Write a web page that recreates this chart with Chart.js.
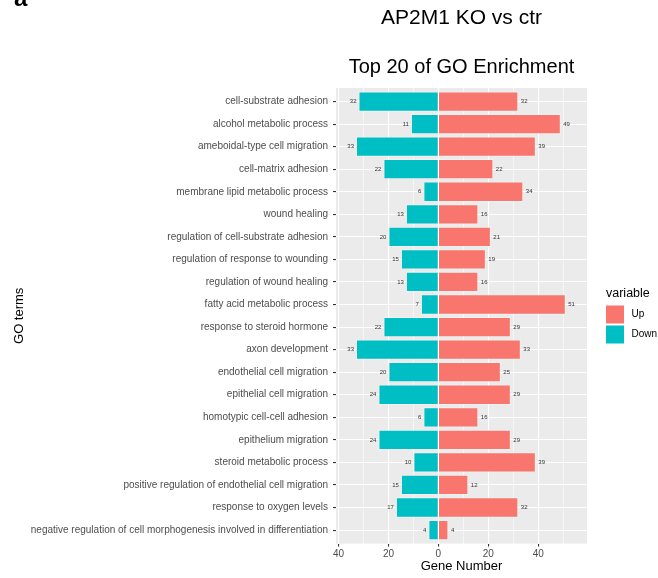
<!DOCTYPE html>
<html>
<head>
<meta charset="utf-8">
<title>GO enrichment</title>
<script src="https://cdn.jsdelivr.net/npm/chart.js@4.4.1/dist/chart.umd.min.js"></script>
<style>
  html, body { margin: 0; padding: 0; background: #fff; }
  canvas { display: block; }
</style>
</head>
<body>
<canvas id="chart" width="658" height="578"></canvas>
<script>
const terms = [
    'cell-substrate adhesion',
    'alcohol metabolic process',
    'ameboidal-type cell migration',
    'cell-matrix adhesion',
    'membrane lipid metabolic process',
    'wound healing',
    'regulation of cell-substrate adhesion',
    'regulation of response to wounding',
    'regulation of wound healing',
    'fatty acid metabolic process',
    'response to steroid hormone',
    'axon development',
    'endothelial cell migration',
    'epithelial cell migration',
    'homotypic cell-cell adhesion',
    'epithelium migration',
    'steroid metabolic process',
    'positive regulation of endothelial cell migration',
    'response to oxygen levels',
    'negative regulation of cell morphogenesis involved in differentiation'
];
const upCounts = [32, 49, 39, 22, 34, 16, 21, 19, 16, 51, 29, 33, 25, 29, 16, 29, 39, 12, 32, 4];
const downCounts = [32, 11, 33, 22, 6, 13, 20, 15, 13, 7, 22, 33, 20, 24, 6, 24, 10, 15, 17, 4];
const xTicks = [-40, -30, -20, -10, 0, 10, 20, 30, 40, 50];

const UP_COLOR = '#F8766D';
const DOWN_COLOR = '#00BFC4';
const FONT = '"Liberation Sans", Arial, Helvetica, sans-serif';

function isMajor(v) {
    return v % 20 === 0;
}

// grey panel behind the bars + all the free text (titles, legend, counts)
const decorations = {
    id: 'decorations',
    beforeDraw(chart) {
        const { ctx, chartArea: a } = chart;
        ctx.save();
        ctx.fillStyle = '#EBEBEB';
        ctx.fillRect(a.left, a.top, a.right - a.left, a.bottom - a.top);
        ctx.restore();
    },
    afterDraw(chart) {
        const { ctx, chartArea: a } = chart;
        const midX = (a.left + a.right) / 2;
        ctx.save();
        ctx.textBaseline = 'middle';

        // counts at the end of each bar
        ctx.font = `6px ${FONT}`;
        ctx.fillStyle = '#333333';
        chart.getDatasetMeta(0).data.forEach((bar, i) => {
            ctx.textAlign = 'left';
            ctx.fillText(String(upCounts[i]), bar.x + 2.5, bar.y);
        });
        chart.getDatasetMeta(1).data.forEach((bar, i) => {
            ctx.textAlign = 'right';
            ctx.fillText(String(downCounts[i]), bar.x - 2, bar.y);
        });

        // titles
        ctx.fillStyle = '#000';
        ctx.textAlign = 'center';
        ctx.font = `21px ${FONT}`;
        ctx.fillText('AP2M1 KO vs ctr', midX, 18);
        ctx.font = `20px ${FONT}`;
        ctx.fillText('Top 20 of GO Enrichment', midX, 67);

        // axis titles
        ctx.font = `13px ${FONT}`;
        ctx.fillText('Gene Number', midX, 566);
        ctx.save();
        ctx.translate(19, (a.top + a.bottom) / 2);
        ctx.rotate(-Math.PI / 2);
        ctx.fillText('GO terms', 0, 0);
        ctx.restore();

        // panel letter, clipped by the top edge
        ctx.textAlign = 'left';
        ctx.textBaseline = 'alphabetic';
        ctx.font = `bold 24px ${FONT}`;
        ctx.fillText('a', 14, 6);

        // legend
        ctx.textBaseline = 'middle';
        ctx.font = `12.5px ${FONT}`;
        ctx.fillText('variable', 606, 294);
        const keys = [['Up', UP_COLOR], ['Down', DOWN_COLOR]];
        keys.forEach(([name, color], i) => {
            const y = 305.5 + i * 20;
            ctx.fillStyle = color;
            ctx.fillRect(606, y, 18, 18);
            ctx.fillStyle = '#000';
            ctx.font = `10px ${FONT}`;
            ctx.fillText(name, 631.5, y + 9);
        });
        ctx.restore();
    }
};

// rows sit on a numeric axis so the padding above/below can be 0.6 of a row
const rowIndex = terms.map((t, i) => i);

const ctx = document.getElementById('chart').getContext('2d');

new Chart(ctx, {
    type: 'bar',
    data: {
        datasets: [
            {
                label: 'Up',
                data: rowIndex.map(i => ({ x: upCounts[i], y: i })),
                backgroundColor: UP_COLOR,
                borderColor: 'rgba(255,255,255,0.35)',
                borderWidth: 1
            },
            {
                label: 'Down',
                data: rowIndex.map(i => ({ x: -downCounts[i], y: i })),
                backgroundColor: DOWN_COLOR,
                borderColor: 'rgba(255,255,255,0.35)',
                borderWidth: 1
            }
        ]
    },
    options: {
        indexAxis: 'y',
        responsive: false,
        animation: false,
        devicePixelRatio: 1,
        layout: {
            padding: { top: 88, right: 71, left: 0, bottom: 0 }
        },
        datasets: {
            bar: {
                categoryPercentage: 1,
                barPercentage: 0.9
            }
        },
        plugins: {
            legend: { display: false },
            title: { display: false },
            tooltip: { enabled: false }
        },
        scales: {
            x: {
                type: 'linear',
                stacked: true,
                min: -41,
                max: 59.5,
                afterBuildTicks: scale => {
                    scale.ticks = xTicks.map(v => ({ value: v }));
                },
                afterFit: scale => {
                    scale.height = 34.4;
                },
                border: { display: false },
                grid: {
                    color: '#FFFFFF',
                    lineWidth: c => (c.tick && isMajor(c.tick.value) ? 1.1 : 0.55),
                    tickColor: c => (c.tick && isMajor(c.tick.value) ? '#333333' : 'rgba(0,0,0,0)'),
                    tickLength: 3
                },
                ticks: {
                    autoSkip: false,
                    maxRotation: 0,
                    padding: 2,
                    color: '#4D4D4D',
                    font: { family: FONT, size: 10 },
                    callback: v => (isMajor(v) ? String(Math.abs(v)) : '')
                }
            },
            y: {
                type: 'linear',
                stacked: true,
                reverse: true,
                offset: false,
                min: -0.6,
                max: terms.length - 0.4,
                afterBuildTicks: scale => {
                    scale.ticks = rowIndex.map(i => ({ value: i }));
                },
                afterFit: scale => {
                    scale.width = 336;
                },
                border: { display: false },
                grid: {
                    offset: false,
                    color: '#FFFFFF',
                    lineWidth: 1.1,
                    tickColor: '#333333',
                    tickLength: 3
                },
                ticks: {
                    autoSkip: false,
                    padding: 5,
                    color: '#4D4D4D',
                    font: { family: FONT, size: 10 },
                    callback: v => terms[v]
                }
            }
        }
    },
    plugins: [decorations]
});
</script>
</body>
</html>
